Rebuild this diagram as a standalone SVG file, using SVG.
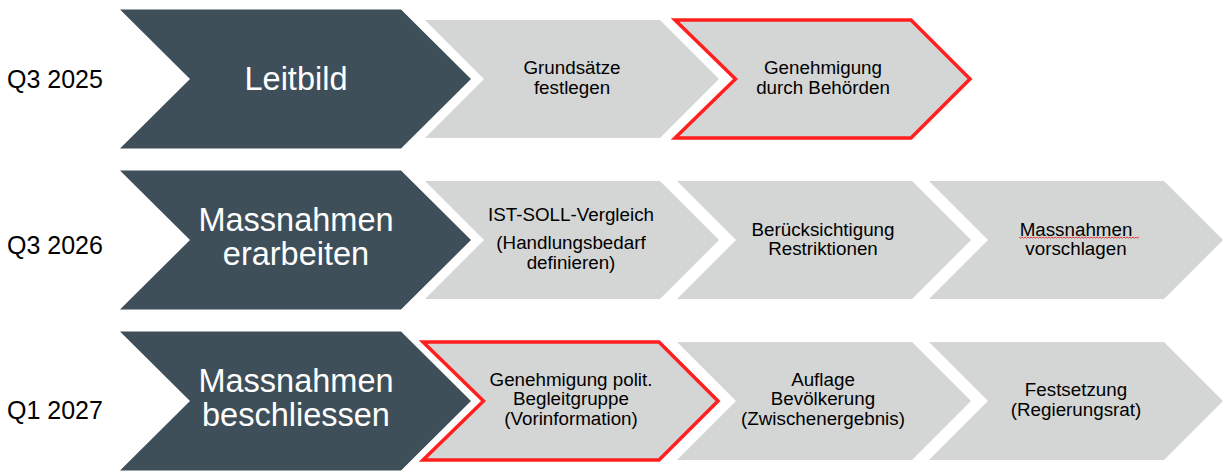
<svg xmlns="http://www.w3.org/2000/svg" width="1231" height="473" viewBox="0 0 1231 473">
<style>
.dark{fill:#3E4F59;}
.gray{fill:#D4D6D5;}
.hl{fill:#D4D6D5;stroke:#FF1F1F;stroke-width:3.5;stroke-linejoin:miter;}
.q{font-family:"Liberation Sans",Arial,sans-serif;font-size:25px;fill:#000;}
.big{font-family:"Liberation Sans",Arial,sans-serif;font-size:32.5px;fill:#FFFFFF;text-anchor:middle;}
.sm{font-family:"Liberation Sans",Arial,sans-serif;font-size:18.8px;fill:#000;text-anchor:middle;}
.wavy{fill:none;stroke:#E83A3A;stroke-width:1;}
</style>
<rect width="1231" height="473" fill="#FFFFFF"/>

<g id="labels">
<text class="q" x="7" y="88">Q3 2025</text>
<text class="q" x="7" y="253.5">Q3 2026</text>
<text class="q" x="7" y="418.5">Q1 2027</text>
</g>

<!-- Row 1 -->
<g id="leitbild">
<polygon class="dark" points="120,9.5 401,9.5 471,79 401,148.5 120,148.5 190,79"/>
<text class="big" x="296" y="90">Leitbild</text>
</g>
<g id="grundsaetze">
<polygon class="gray" points="425,20 660,20 719,79 660,138 425,138 484,79"/>
<text class="sm" x="572" y="74">Grundsätze</text>
<text class="sm" x="572" y="93.5">festlegen</text>
</g>
<g id="genehmigung-behoerden">
<polygon class="hl" points="675,20 911,20 970,79 911,138 675,138 735.5,79"/>
<text class="sm" x="823" y="74">Genehmigung</text>
<text class="sm" x="823" y="93.5">durch Behörden</text>
</g>

<!-- Row 2 -->
<g id="massnahmen-erarbeiten">
<polygon class="dark" points="120,170.5 401,170.5 471,240 401,309.5 120,309.5 190,240"/>
<text class="big" x="296" y="231">Massnahmen</text>
<text class="big" x="296" y="264.5">erarbeiten</text>
</g>
<g id="ist-soll">
<polygon class="gray" points="425,181 660,181 719,240 660,299 425,299 484,240"/>
<text class="sm" x="571" y="220.5">IST-SOLL-Vergleich</text>
<text class="sm" x="571" y="249">(Handlungsbedarf</text>
<text class="sm" x="571" y="268.5">definieren)</text>
</g>
<g id="beruecksichtigung">
<polygon class="gray" points="677,181 912,181 971,240 912,299 677,299 736,240"/>
<text class="sm" x="823" y="235.5">Berücksichtigung</text>
<text class="sm" x="823" y="255">Restriktionen</text>
</g>
<g id="massnahmen-vorschlagen">
<polygon class="gray" points="929,181 1164,181 1223,240 1164,299 929,299 988,240"/>
<text class="sm" x="1076" y="235.5">Massnahmen</text>
<path class="wavy" d="M1019,237 l1.5,1.2 l1.5,-1.2 l1.5,1.2 l1.5,-1.2 l1.5,1.2 l1.5,-1.2 l1.5,1.2 l1.5,-1.2 l1.5,1.2 l1.5,-1.2 l1.5,1.2 l1.5,-1.2 l1.5,1.2 l1.5,-1.2 l1.5,1.2 l1.5,-1.2 l1.5,1.2 l1.5,-1.2 l1.5,1.2 l1.5,-1.2 l1.5,1.2 l1.5,-1.2 l1.5,1.2 l1.5,-1.2 l1.5,1.2 l1.5,-1.2 l1.5,1.2 l1.5,-1.2 l1.5,1.2 l1.5,-1.2 l1.5,1.2 l1.5,-1.2 l1.5,1.2 l1.5,-1.2 l1.5,1.2 l1.5,-1.2 l1.5,1.2 l1.5,-1.2 l1.5,1.2 l1.5,-1.2 l1.5,1.2 l1.5,-1.2 l1.5,1.2 l1.5,-1.2 l1.5,1.2 l1.5,-1.2 l1.5,1.2 l1.5,-1.2 l1.5,1.2 l1.5,-1.2 l1.5,1.2 l1.5,-1.2 l1.5,1.2 l1.5,-1.2 l1.5,1.2 l1.5,-1.2 l1.5,1.2 l1.5,-1.2 l1.5,1.2 l1.5,-1.2 l1.5,1.2 l1.5,-1.2 l1.5,1.2 l1.5,-1.2 l1.5,1.2 l1.5,-1.2 l1.5,1.2 l1.5,-1.2 l1.5,1.2 l1.5,-1.2 l1.5,1.2 l1.5,-1.2 l1.5,1.2 l1.5,-1.2 l1.5,1.2 l1.5,-1.2 l1.5,1.2 l1.5,-1.2 l1.5,1.2 l1.5,-1.2"/>
<text class="sm" x="1076" y="255">vorschlagen</text>
</g>

<!-- Row 3 -->
<g id="massnahmen-beschliessen">
<polygon class="dark" points="120,331.5 401,331.5 471,401 401,470.5 120,470.5 190,401"/>
<text class="big" x="296" y="392">Massnahmen</text>
<text class="big" x="296" y="425.5">beschliessen</text>
</g>
<g id="genehmigung-begleitgruppe">
<polygon class="hl" points="423,342 659,342 718,401 659,460 423,460 483.5,401"/>
<text class="sm" x="571" y="385.5">Genehmigung polit.</text>
<text class="sm" x="571" y="405">Begleitgruppe</text>
<text class="sm" x="571" y="424.5">(Vorinformation)</text>
</g>
<g id="auflage">
<polygon class="gray" points="677,342 912,342 971,401 912,460 677,460 736,401"/>
<text class="sm" x="823" y="385.5">Auflage</text>
<text class="sm" x="823" y="405">Bevölkerung</text>
<text class="sm" x="823" y="424.5">(Zwischenergebnis)</text>
</g>
<g id="festsetzung">
<polygon class="gray" points="929,342 1164,342 1223,401 1164,460 929,460 988,401"/>
<text class="sm" x="1076" y="396">Festsetzung</text>
<text class="sm" x="1076" y="415.5">(Regierungsrat)</text>
</g>

<g id="connectors"></g>
</svg>
